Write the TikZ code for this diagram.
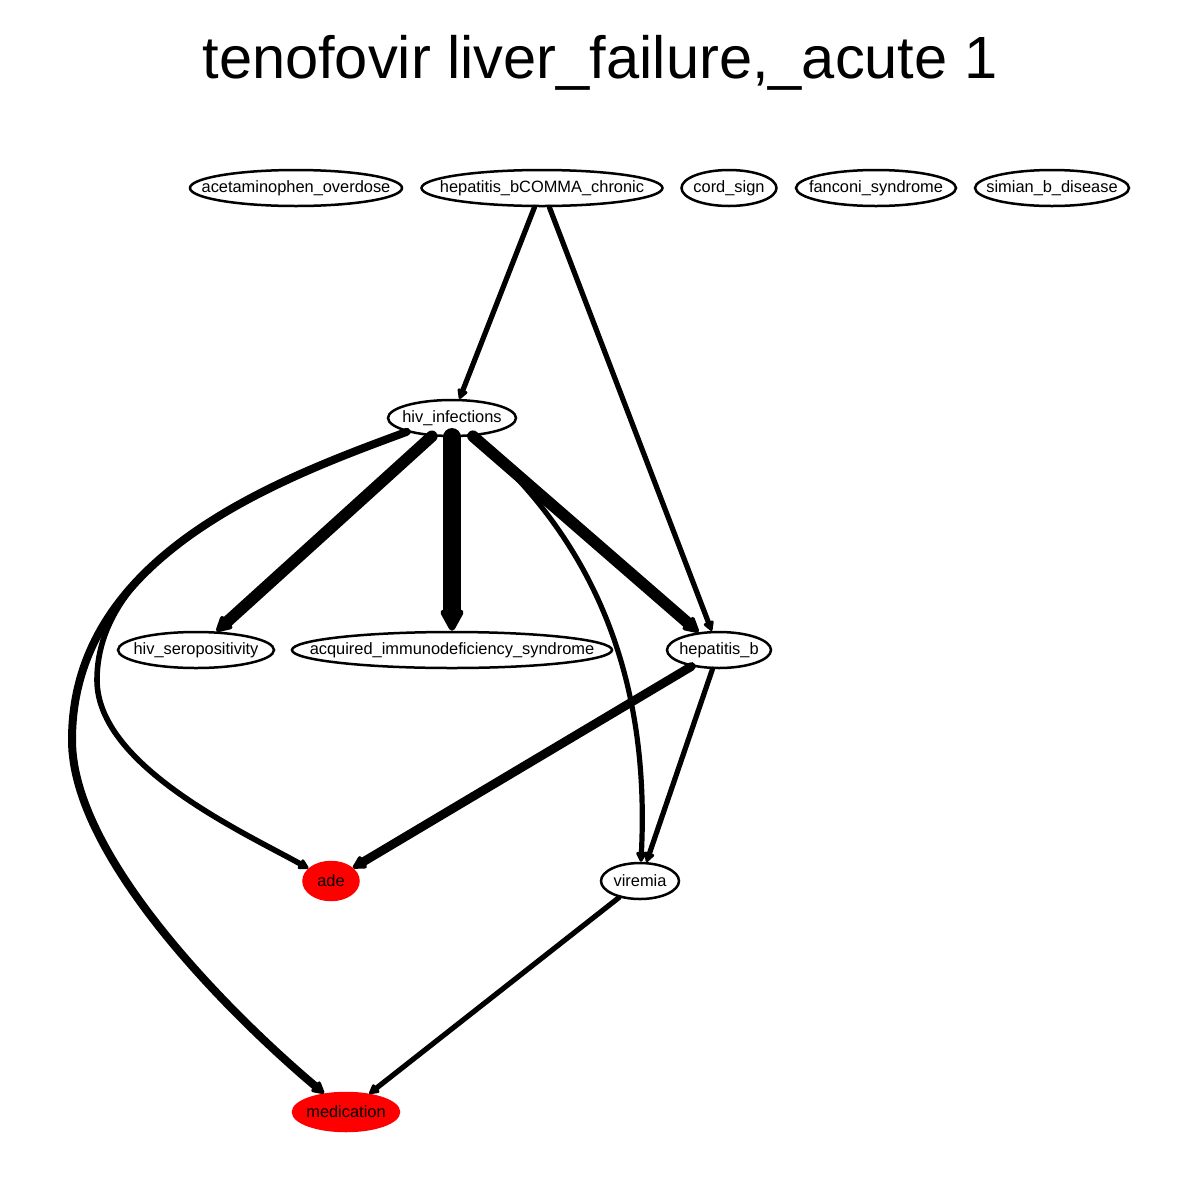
\documentclass[tikz,border=0pt]{standalone}
\usepackage{fontspec}
\setmainfont{Liberation Sans}
\usepackage{tikz}
\usetikzlibrary{shapes.geometric,arrows.meta}
\definecolor{GRed}{HTML}{FF0000}
\newcommand{\nolen}[1]{\makebox[0pt]{#1}}

\begin{document}
\begin{tikzpicture}[x=0.5pt, y=-0.5pt,
  ent/.style={ellipse, draw, line width=1.25pt, inner sep=0pt, minimum height=18pt,
    font=\fontsize{8.2}{9.5}\selectfont},
  hit/.style={ent, draw=GRed, fill=GRed, minimum height=19pt},
  lnk/.style={-{Triangle[length=3pt 1.05, width=3pt 1.05, round]}, line width=2.6pt,
    line cap=round, line join=round}]
  \path[use as bounding box, fill=white] (0,0) rectangle (1200,1200);
  \node[font=\fontsize{29.8}{34}\selectfont, inner sep=0pt] (title) at (600,63)
    {tenofovir liver\_failure,\_acute 1};

  % top row
  \node[ent, minimum width=106pt] (acet) at (296,188) {\nolen{acetaminophen\_overdose}};
  \node[ent, minimum width=120.5pt] (hbc) at (542,188) {\nolen{hepatitis\_bCOMMA\_chronic}};
  \node[ent, minimum width=47.5pt] (cord) at (729,188) {\nolen{cord\_sign}};
  \node[ent, minimum width=80pt] (fanc) at (876,188) {\nolen{fanconi\_syndrome}};
  \node[ent, minimum width=77pt] (simb) at (1052,188) {\nolen{simian\_b\_disease}};

  % middle
  \node[ent, minimum width=64pt] (hiv) at (452,418) {\nolen{hiv\_infections}};
  \node[ent, minimum width=78pt] (sero) at (196,650) {\nolen{hiv\_seropositivity}};
  \node[ent, minimum width=160pt] (aids) at (452,650) {\nolen{acquired\_immunodeficiency\_syndrome}};
  \node[ent, minimum width=52pt] (hepb) at (719,650) {\nolen{hepatitis\_b}};

  % bottom
  \node[hit, minimum width=27.5pt] (ade) at (331,881) {\nolen{ade}};
  \node[ent, minimum width=39pt] (vir) at (640,881) {\nolen{viremia}};
  \node[hit, minimum width=53pt] (med) at (346,1112) {\nolen{medication}};

  \draw[lnk] (hbc) -- (hiv);
  \draw[lnk] (hbc) -- (hepb);
  \draw[lnk, line width=5.8pt] (hiv) -- (sero);
  \draw[lnk, line width=9.2pt] (hiv) -- (aids);
  \draw[lnk, line width=5.8pt] (hiv) -- (hepb);
  \draw[lnk] (hiv) .. controls (565,515) and (652,640) .. (vir);
  \draw[lnk, line width=2.8pt] (hiv.197) .. controls (269,483) and (97,555) .. (97,680)
    .. controls (97,766) and (245,833) .. (ade);
  \draw[lnk, line width=4pt] (hiv.197) .. controls (276,480) and (72,556) .. (72,740)
    .. controls (72,860) and (238,1021) .. (med);
  \draw[lnk, line width=4.4pt] (hepb) -- (ade);
  \draw[lnk] (hepb) -- (vir);
  \draw[lnk] (vir) -- (med);
\end{tikzpicture}
\end{document}
